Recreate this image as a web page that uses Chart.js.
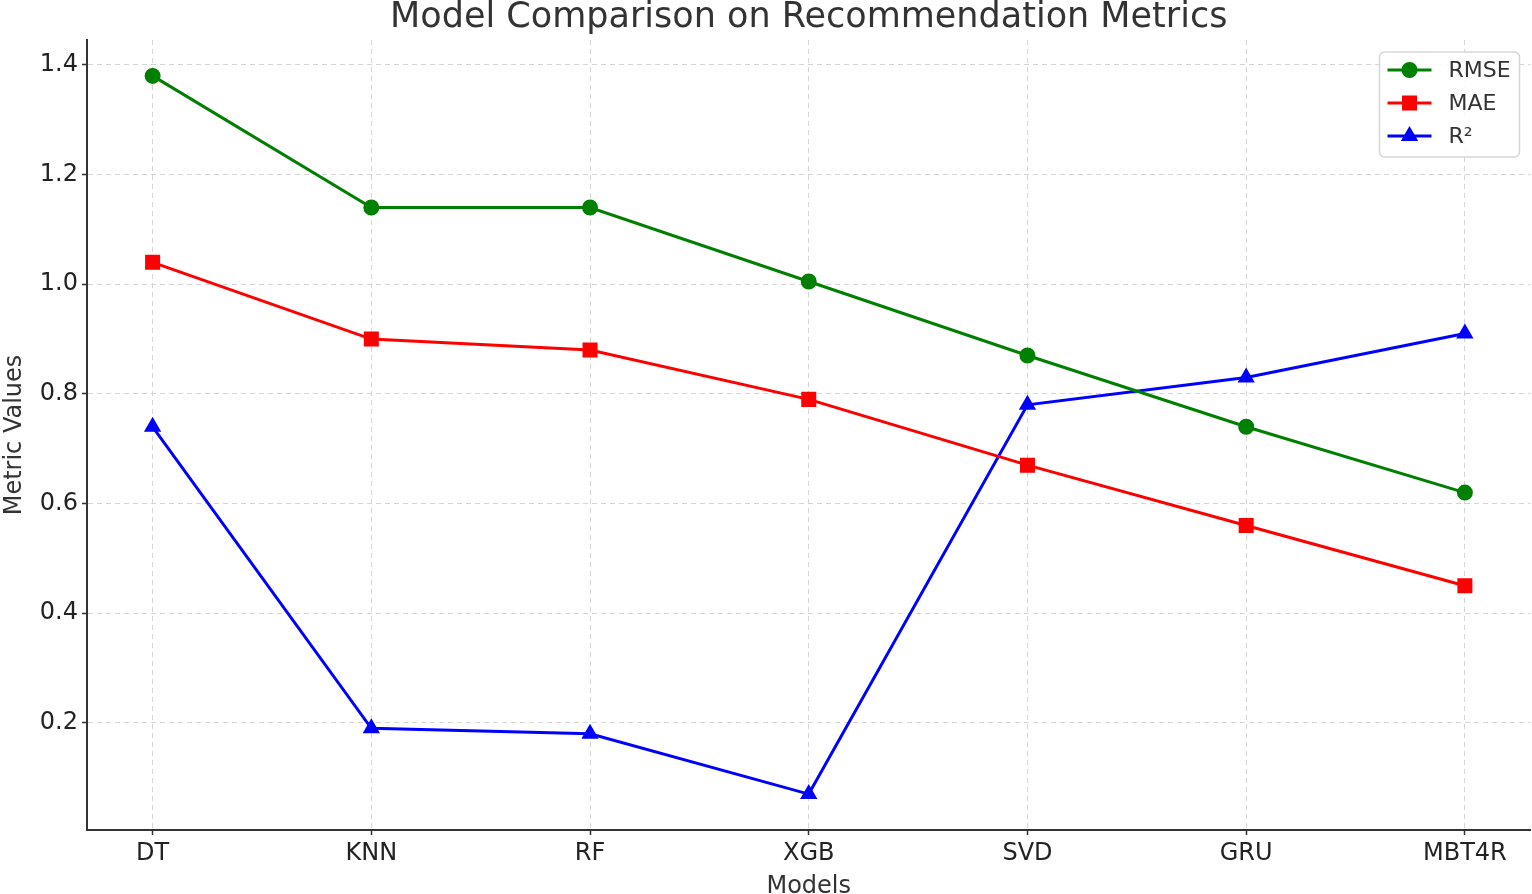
<!DOCTYPE html>
<html>
<head>
<meta charset="utf-8">
<script src="https://cdn.jsdelivr.net/npm/chart.js@4"></script>
<style>
  html, body { margin: 0; padding: 0; background: #fff; overflow: hidden; }
  /* a little wider than the window: Chart.js keeps ~11px spare on the right */
  #wrap { width: 1542px; height: 894px; }
  canvas { display: block; }
</style>
</head>
<body>
<div id="wrap"><canvas id="metricsChart"></canvas></div>
<script>
const models = ['DT', 'KNN', 'RF', 'XGB', 'SVD', 'GRU', 'MBT4R'];
const rmse = [1.38, 1.14, 1.14, 1.005, 0.87, 0.74, 0.62];
const mae = [1.04, 0.90, 0.88, 0.79, 0.67, 0.56, 0.45];
const r2 = [0.74, 0.19, 0.18, 0.07, 0.78, 0.83, 0.91];
const yTicks = [0.2, 0.4, 0.6, 0.8, 1.0, 1.2, 1.4];
const chartTitle = 'Model Comparison on Recommendation Metrics';

const toPoints = vals => vals.map((v, i) => ({ x: i, y: v }));

const ctx = document.getElementById('metricsChart').getContext('2d');

const datasets = [
  {
    label: 'RMSE',
    data: toPoints(rmse),
    borderColor: '#008000',
    backgroundColor: '#008000',
    borderWidth: 3,
    pointStyle: 'circle',
    radius: 6.5,
  },
  {
    label: 'MAE',
    data: toPoints(mae),
    borderColor: '#ff0000',
    backgroundColor: '#ff0000',
    borderWidth: 3,
    pointStyle: 'rect',
    radius: 8.5,
  },
  {
    label: 'R²',
    data: toPoints(r2),
    borderColor: '#0000ff',
    backgroundColor: '#0000ff',
    borderWidth: 3,
    pointStyle: 'triangle',
    radius: 7,
  }
];

// title centred over the plot area, like matplotlib does
const axesTitle = {
  id: 'axesTitle',
  afterDraw(chart) {
    const c = chart.ctx, a = chart.chartArea;
    c.save();
    c.fillStyle = '#333';
    c.font = '35px "DejaVu Sans"';
    c.textAlign = 'center';
    c.textBaseline = 'alphabetic';
    c.fillText(chartTitle, (a.left + a.right) / 2, 27);
    c.restore();
  }
};

// matplotlib style legend: line + marker inside a rounded box
const boxLegend = {
  id: 'boxLegend',
  afterDraw(chart) {
    const c = chart.ctx;
    const area = chart.chartArea;
    const w = 140, h = 105;
    const x0 = area.right - w - 11, y0 = area.top + 12;
    c.save();
    c.fillStyle = 'rgba(255,255,255,0.85)';
    c.strokeStyle = '#d6d6d6';
    c.lineWidth = 1.5;
    c.beginPath();
    c.roundRect(x0, y0, w, h, 5);
    c.fill();
    c.stroke();
    chart.data.datasets.forEach((ds, i) => {
      const y = y0 + 18 + i * 33;
      c.strokeStyle = ds.borderColor;
      c.lineWidth = 3;
      c.beginPath();
      c.moveTo(x0 + 8, y);
      c.lineTo(x0 + 52, y);
      c.stroke();
      Chart.helpers.drawPoint(c, {
        pointStyle: ds.pointStyle, radius: ds.radius, borderWidth: 1, rotation: 0
      }, x0 + 30, y);
      c.fillStyle = ds.backgroundColor;
      c.strokeStyle = ds.borderColor;
      c.fill();
      c.fillStyle = '#333';
      c.font = '22px "DejaVu Sans"';
      c.textBaseline = 'middle';
      c.textAlign = 'left';
      c.fillText(ds.label, x0 + 69, y + 1);
    });
    c.restore();
  }
};

const config = {
  type: 'line',
  data: { datasets: datasets },
  plugins: [axesTitle, boxLegend],
  options: {
    responsive: true,
    maintainAspectRatio: false,
    animation: false,
    layout: { padding: { left: 0, right: 0, top: 40, bottom: 0 } },
    elements: { line: { tension: 0 } },
    plugins: {
      legend: { display: false },
      tooltip: { enabled: false }
    },
    scales: {
      x: {
        type: 'linear',
        min: -0.3,
        max: 6.3,
        afterBuildTicks: scale => {
          scale.ticks = models.map((m, i) => ({ value: i }));
        },
        afterFit: scale => {
          scale.height = 64;
          scale.paddingLeft = 0;
          scale.paddingRight = 0;
        },
        ticks: {
          color: '#222',
          font: { size: 24 },
          padding: 4,
          maxRotation: 0,
          autoSkip: false,
          callback: v => models[v]
        },
        grid: {
          color: '#d4d4d4',
          lineWidth: 1,
          tickLength: 5,
          tickColor: '#333',
          tickWidth: 1.5,
          tickBorderDash: []
        },
        border: { color: '#333', width: 2, dash: [5, 4] },
        title: {
          display: true,
          text: 'Models',
          color: '#333',
          font: { size: 24, lineHeight: 0.6 },
          padding: { top: 0, bottom: 0 }
        }
      },
      y: {
        type: 'linear',
        min: 0.0045,
        max: 1.4455,
        afterBuildTicks: scale => {
          scale.ticks = yTicks.map(v => ({ value: v }));
        },
        afterFit: scale => { scale.width = 87; },
        ticks: {
          color: '#222',
          font: { size: 24 },
          padding: 4,
          callback: v => v.toFixed(1)
        },
        grid: {
          color: '#d4d4d4',
          lineWidth: 1,
          tickLength: 5,
          tickColor: '#333',
          tickWidth: 1.5,
          tickBorderDash: []
        },
        border: { color: '#333', width: 2, dash: [5, 4] },
        title: {
          display: true,
          text: 'Metric Values',
          color: '#333',
          font: { size: 24 },
          padding: { top: 0, bottom: 0 }
        }
      }
    }
  }
};

Chart.defaults.font.family = '"DejaVu Sans"';
const metricsChart = new Chart(ctx, config);
</script>
</body>
</html>
